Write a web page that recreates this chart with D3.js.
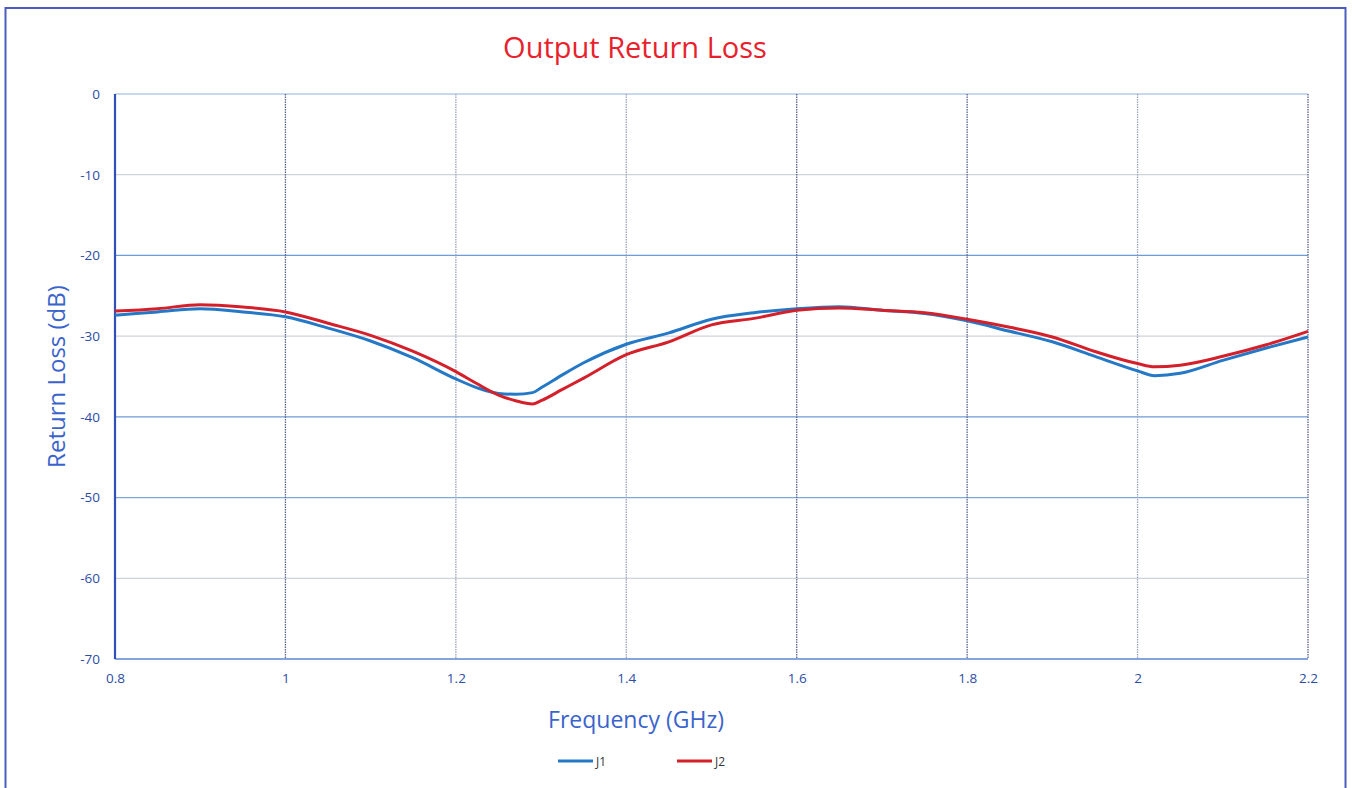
<!DOCTYPE html>
<html>
<head>
<meta charset="utf-8">
<script src="https://cdn.jsdelivr.net/npm/d3@7"></script>
<style>
  html, body { margin: 0; padding: 0; background: #fff; }
  svg { display: block; }
  text { font-family: "Open Sans", "Liberation Sans", sans-serif; }
</style>
</head>
<body>
<svg id="chart" width="1352" height="788"></svg>
<script>
const title = "Output Return Loss";
const xTitle = "Frequency (GHz)";
const yTitle = "Return Loss (dB)";
const xTicks = [0.8, 1, 1.2, 1.4, 1.6, 1.8, 2, 2.2];
const yTicks = [0, -10, -20, -30, -40, -50, -60, -70];
const seriesNames = ["J1", "J2"];

const freq = [0.80, 0.85, 0.90, 0.95, 1.00, 1.05, 1.10, 1.15, 1.20, 1.225, 1.25, 1.27, 1.29, 1.30, 1.325, 1.35, 1.40, 1.45, 1.50, 1.55, 1.60, 1.65, 1.70, 1.75, 1.80, 1.85, 1.90, 1.95, 2.00, 2.02, 2.05, 2.10, 2.15, 2.20];
const j1 =   [-27.4, -27.0, -26.6, -27.0, -27.6, -29.0, -30.6, -32.7, -35.3, -36.4, -37.1, -37.2, -37.0, -36.4, -34.8, -33.3, -31.0, -29.6, -27.9, -27.1, -26.6, -26.35, -26.8, -27.2, -28.1, -29.4, -30.7, -32.5, -34.3, -34.9, -34.6, -33.0, -31.5, -30.1];
const j2 =   [-26.9, -26.6, -26.1, -26.4, -27.0, -28.4, -29.9, -31.9, -34.4, -35.9, -37.3, -38.0, -38.4, -38.0, -36.6, -35.2, -32.3, -30.7, -28.6, -27.8, -26.8, -26.5, -26.8, -27.1, -27.9, -28.9, -30.1, -31.9, -33.4, -33.8, -33.6, -32.5, -31.1, -29.4];
const seriesValues = [j1, j2];
const seriesColors = ["#2478c6", "#d4202a"];

const svg = d3.select("#chart");
const W = 1352, H = 788;
const margin = {left: 115, right: 44, top: 94, bottom: 129};
const x = d3.scaleLinear().domain([0.8, 2.2]).range([margin.left, W - margin.right]);
const y = d3.scaleLinear().domain([-70, 0]).range([H - margin.bottom, margin.top]);

// outer border
svg.append("rect").attr("x", 5.5).attr("y", 8).attr("width", 1340).attr("height", 790)
  .attr("fill", "none").attr("stroke", "#4a5cc0").attr("stroke-width", 2);

// horizontal gridlines
const hStyle = {"0": "#8fb2e2", "-10": "#cfd3da", "-20": "#6f9bd6", "-30": "#cfd3da", "-40": "#6f9bd6", "-50": "#7fa8dc", "-60": "#cfd3da"};
svg.append("g").selectAll("line").data(yTicks.filter(d => d > -70)).join("line")
  .attr("x1", x(0.8)).attr("x2", x(2.2))
  .attr("y1", d => y(d)).attr("y2", d => y(d))
  .attr("stroke", d => hStyle[String(d)]).attr("stroke-width", 1.2);

// vertical gridlines (dotted)
svg.append("g").selectAll("line").data(xTicks.slice(1)).join("line")
  .attr("x1", d => x(d)).attr("x2", d => x(d))
  .attr("y1", y(0)).attr("y2", y(-70))
  .attr("stroke", (d, i) => [0, 3, 4, 6].includes(i) ? "#55628f" : "#9aa3bb")
  .attr("stroke-width", 1.3).attr("stroke-dasharray", "1.5,1");

// bottom axis line
svg.append("line").attr("x1", x(0.8)).attr("x2", x(2.2)).attr("y1", y(-70)).attr("y2", y(-70))
  .attr("stroke", "#5b86d0").attr("stroke-width", 1.5);
// left axis line
svg.append("line").attr("x1", x(0.8)).attr("x2", x(0.8)).attr("y1", y(0)).attr("y2", y(-70))
  .attr("stroke", "#3050b8").attr("stroke-width", 2.2);

// axes labels via d3 axes
const yAxis = d3.axisLeft(y).tickValues(yTicks).tickSize(0).tickPadding(15).tickFormat(d => String(d));
const gy = svg.append("g").attr("transform", `translate(${x(0.8)},0)`).call(yAxis);
gy.select(".domain").remove();
gy.selectAll("text").attr("fill", "#2d4da6").attr("font-size", 13.5);

const xAxis = d3.axisBottom(x).tickValues(xTicks).tickSize(0).tickPadding(14).tickFormat(d => String(d));
const gx = svg.append("g").attr("transform", `translate(0,${y(-70)})`).call(xAxis);
gx.select(".domain").remove();
gx.selectAll("text").attr("fill", "#2d4da6").attr("font-size", 13.5);

// series lines
const line = d3.line().x((d, i) => x(freq[i])).y(d => y(d)).curve(d3.curveMonotoneX);
seriesValues.forEach((vals, k) => {
  svg.append("path").datum(vals).attr("d", line)
    .attr("fill", "none").attr("stroke", seriesColors[k]).attr("stroke-width", 3)
    .attr("stroke-linejoin", "round");
});

// title
svg.append("text").attr("x", 635).attr("y", 58).attr("text-anchor", "middle")
  .attr("fill", "#e8222c").attr("font-size", 29).text(title);

// axis titles
svg.append("text").attr("x", 636).attr("y", 728).attr("text-anchor", "middle")
  .attr("fill", "#3a64cc").attr("font-size", 23).text(xTitle);
svg.append("text").attr("transform", `translate(65,${(y(0) + y(-70)) / 2}) rotate(-90)`).attr("text-anchor", "middle")
  .attr("fill", "#3a64cc").attr("font-size", 24).text(yTitle);

// legend
const legX = [558, 677];
seriesNames.forEach((n, k) => {
  svg.append("line").attr("x1", legX[k]).attr("x2", legX[k] + 35).attr("y1", 761).attr("y2", 761)
    .attr("stroke", seriesColors[k]).attr("stroke-width", 2.8);
  svg.append("text").attr("x", legX[k] + 38).attr("y", 765.5).attr("fill", "#333")
    .attr("font-size", 12).text(n);
});
</script>
</body>
</html>
